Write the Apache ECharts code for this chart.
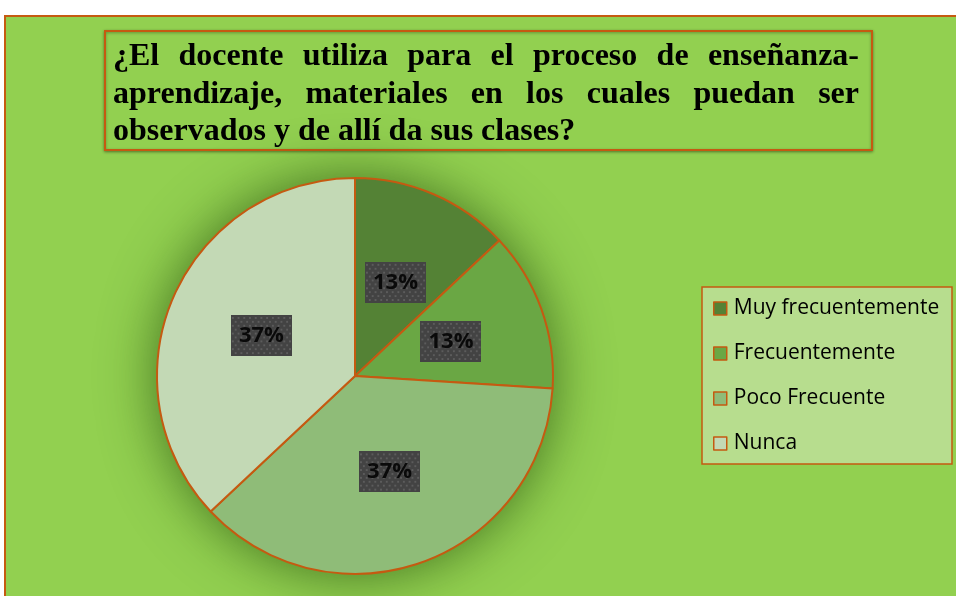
<!DOCTYPE html>
<html>
<head>
<meta charset="utf-8">
<script src="https://cdn.jsdelivr.net/npm/echarts@6/dist/echarts.min.js"></script>
<style>
  html, body { margin: 0; padding: 0; background: #fff; }
  #chart { width: 956px; height: 596px; }
</style>
</head>
<body>
<div id="chart"></div>
<script>
// data
var categories = ['Muy frecuentemente', 'Frecuentemente', 'Poco Frecuente', 'Nunca'];
var percents = [13, 13, 37, 37];
var sliceColors = ['#548235', '#6AA744', '#8FBC78', '#C3D9B5'];
var titleLines = [
  '¿El docente utiliza para el proceso de enseñanza-',
  'aprendizaje,  materiales en los cuales puedan ser',
  'observados y de allí da sus clases?'
];

var ORANGE = '#C55A11';
var GREEN = '#92D050';

// dotted dark box used behind the percent labels
function dotBox(w, h) {
  var c = document.createElement('canvas');
  c.width = w; c.height = h;
  var g = c.getContext('2d');
  g.fillStyle = '#434343';
  g.fillRect(0, 0, w, h);
  g.fillStyle = '#5c5c5c';
  for (var y = 2, row = 0; y < h; y += 4, row++) {
    for (var x = (row % 2) ? 4 : 1; x < w; x += 6) {
      g.fillRect(x, y, 2, 2);
    }
  }
  return c;
}

// justified title, word by word
var titleFont = 'bold 32px "Liberation Serif"';
function titleGraphics() {
  var ctx = document.createElement('canvas').getContext('2d');
  ctx.font = titleFont;
  var left = 113, right = 859, mid0 = 57, lineH = 37.5;
  var out = [];
  titleLines.forEach(function (line, i) {
    var words = line.split(/\s+/);
    var widths = words.map(function (w) { return ctx.measureText(w).width; });
    var total = widths.reduce(function (a, b) { return a + b; }, 0);
    var last = i === titleLines.length - 1;
    var gap = last ? ctx.measureText(' ').width : (right - left - total) / (words.length - 1);
    var x = left;
    words.forEach(function (w, j) {
      out.push({
        type: 'text',
        x: x, y: mid0 + i * lineH,
        style: { text: w, font: titleFont, fill: '#000', verticalAlign: 'middle' }
      });
      x += widths[j] + gap;
    });
  });
  return out;
}

var chart = echarts.init(document.getElementById('chart'));
var dots = dotBox(64, 42);

chart.setOption({
  backgroundColor: '#fff',
  animation: false,
  graphic: [
    { type: 'rect', z: -10, shape: { x: 5, y: 16, width: 960, height: 600 },
      style: { fill: GREEN, stroke: ORANGE, lineWidth: 2 } },
    { type: 'rect', z: -5, shape: { x: 105, y: 31, width: 767, height: 119 },
      style: { fill: GREEN, stroke: ORANGE, lineWidth: 2, shadowBlur: 3, shadowOffsetY: 1, shadowColor: 'rgba(0,0,0,0.35)' } },
    { type: 'rect', z: -5, shape: { x: 702, y: 287, width: 250, height: 177 },
      style: { fill: '#B7DD8E', stroke: ORANGE, lineWidth: 1.5 } },
    { type: 'group', children: titleGraphics() }
  ],
  legend: {
    orient: 'vertical',
    left: 701,
    top: 288,
    padding: [10, 10, 10, 12],
    itemWidth: 13,
    itemHeight: 13,
    itemGap: 24,
    icon: 'rect',
    data: categories,
    itemStyle: { borderColor: ORANGE, borderWidth: 1.5 },
    textStyle: { fontFamily: 'Open Sans', fontSize: 21, color: '#000', padding: [0, 0, 0, 2], lineHeight: 21 }
  },
  series: [
    {
      // soft shadow under the whole pie
      type: 'pie',
      silent: true,
      center: [355, 376],
      radius: 198,
      z: 1,
      label: { show: false },
      labelLine: { show: false },
      data: [{ name: '', value: 1, itemStyle: { color: '#7DB844',
        shadowBlur: 55, shadowColor: 'rgba(30,70,10,0.7)' } }]
    },
    {
      type: 'pie',
      center: [355, 376],
      radius: 198,
      startAngle: 90,
      clockwise: true,
      z: 2,
      itemStyle: { borderColor: ORANGE, borderWidth: 2 },
      label: {
        show: true,
        position: 'inside',
        formatter: '{c}%',
        fontFamily: 'Open Sans',
        fontWeight: 'bold',
        fontSize: 22,
        color: '#0a0a0a',
        lineHeight: 23,
        padding: [10, 8, 8, 8],
        backgroundColor: { image: dots },
        shadowBlur: 5,
        shadowOffsetX: 3,
        shadowOffsetY: 3,
        shadowColor: 'rgba(0,0,0,0.45)'
      },
      labelLine: { show: false },
      emphasis: { disabled: true },
      data: categories.map(function (c, i) {
        return { name: c, value: percents[i], itemStyle: { color: sliceColors[i] } };
      })
    }
  ]
});
</script>
</body>
</html>
